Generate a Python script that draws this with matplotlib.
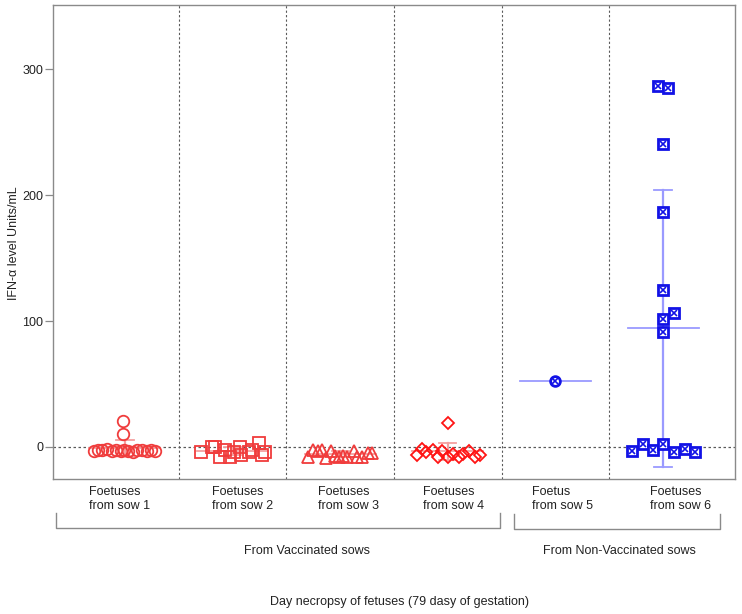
import numpy as np
import matplotlib
matplotlib.use("Agg")
import matplotlib.pyplot as plt

plt.rcParams['font.family'] = ['Liberation Sans', 'DejaVu Sans']

# ---------------- data ----------------
group_labels = ["Foetuses\nfrom sow 1", "Foetuses\nfrom sow 2", "Foetuses\nfrom sow 3",
                "Foetuses\nfrom sow 4", "Foetus\nfrom sow 5", "Foetuses\nfrom sow 6"]

sow1_offsets = [-0.29, -0.25, -0.21, -0.17, -0.12, -0.08, -0.04, -0.01, 0.03, 0.07,
                0.11, 0.16, 0.20, 0.24, 0.28, -0.02, -0.02]
sow1_values = [-3.0, -2.0, -2.5, -1.5, -3.0, -2.0, -3.5, -2.5, -3.0, -4.0,
               -2.5, -2.0, -3.0, -2.5, -3.0, 10.5, 21.0]

sow2_offsets = [-0.29, -0.19, -0.16, -0.12, -0.07, -0.02, 0.01, 0.07, 0.08, 0.15,
                0.18, 0.25, 0.27, 0.30]
sow2_values = [-3.7, -0.3, -0.3, -7.7, -2.4, -7.7, -3.7, 0.3, -6.3, -3.7,
               -2.4, 3.4, -6.3, -3.7]

sow3_offsets = [-0.30, -0.25, -0.21, -0.17, -0.13, -0.09, -0.05, -0.01, 0.03, 0.06,
                0.13, 0.16, 0.20, 0.26, 0.30]
sow3_values = [-7.7, -2.4, -3.5, -2.4, -9.0, -2.8, -7.0, -7.7, -7.0, -7.7,
               -3.5, -8.2, -7.7, -4.6, -5.0]

sow4_offsets = [-0.29, -0.24, -0.20, -0.14, -0.09, -0.05, 0.0, 0.0, 0.05, 0.10,
                0.14, 0.20, 0.25, 0.30]
sow4_values = [-6.3, -1.6, -3.7, -2.4, -7.7, -2.8, 19.3, -7.7, -5.4, -8.2,
               -5.4, -2.8, -7.7, -6.3]

sow5_offsets = [0.0]
sow5_values = [52.4]

sow6_offsets = [-0.05, 0.05, 0.0, 0.0, 0.0, 0.0, 0.10, 0.0,
                -0.29, -0.19, -0.09, 0.0, 0.10, 0.20, 0.30]
sow6_values = [286.5, 285.0, 240.5, 186.5, 124.6, 101.6, 106.0, 91.3,
               -2.9, 2.4, -2.4, 2.1, -3.7, -1.9, -3.7]

yticks = [0, 100, 200, 300]

# ---------------- figure ----------------
W, H = 742, 614
fig = plt.figure(figsize=(W / 100, H / 100), dpi=100)
ax = fig.add_axes([53 / W, 1 - 479 / H, 682 / W, 474 / H])
ax.set_xlim(0.331, 6.669)
ax.set_ylim(-25.4, 350.8)

spine_c = '#8a8a8a'
for s in ax.spines.values():
    s.set_color(spine_c)
    s.set_linewidth(1.0)

ax.set_xticks([])
ax.set_yticks(yticks)
ax.tick_params(axis='y', direction='out', length=5.5, width=0.9, color=spine_c,
               labelsize=9, pad=1.5, labelcolor='#222222')

txt_c = '#222222'
fig.text(14.5 / W, 1 - 243 / H, "IFN-α level Units/mL", rotation=90,
         ha='center', va='center', fontsize=9, color=txt_c)

dot_c = '#5a5a5a'
ax.axhline(0, color=dot_c, lw=0.9, ls=(0, (2, 2)), zorder=1)
for xd in np.arange(1.5, 6.0, 1.0):
    ax.axvline(xd, color=dot_c, lw=0.8, ls=(0, (2, 2)), zorder=1)

red = '#f03c3c'
red2 = '#ff1414'
red_err = '#f4a0a0'
blue = '#1212e6'
blue_err = '#9a9aff'

groups = [
    (sow1_offsets, sow1_values, 'o', red, 8.3, red_err),
    (sow2_offsets, sow2_values, 's', red, 8.0, red_err),
    (sow3_offsets, sow3_values, '^', red, 8.6, red_err),
    (sow4_offsets, sow4_values, 'D', red2, 6.6, red_err),
    (sow5_offsets, sow5_values, 'o', blue, 7.0, blue_err),
    (sow6_offsets, sow6_values, 's', blue, 7.2, blue_err),
]

for i, (offs, vals, mk, col, ms, ecol) in enumerate(groups):
    xc = i + 1
    vals = np.asarray(vals, float)
    xs = xc + np.asarray(offs, float)
    m = vals.mean()
    ax.plot([xc - 0.33, xc + 0.33], [m, m], color=ecol, lw=1.3, zorder=2)
    if len(vals) > 1:
        sd = vals.std(ddof=1)
        ax.plot([xc, xc], [m - sd, m + sd], color=ecol, lw=1.6, zorder=2)
        for yy in (m - sd, m + sd):
            ax.plot([xc - 0.08, xc + 0.08], [yy, yy], color=ecol, lw=1.3, zorder=2)
    if col == blue:
        ax.plot(xs, vals, ls='none', marker=mk, ms=ms, mfc='white', mec=col,
                mew=2.0, zorder=4)
        ax.plot(xs, vals, ls='none', marker='x', ms=ms * 0.62, mec=col,
                mew=1.2, zorder=5)
    else:
        ax.plot(xs, vals, ls='none', marker=mk, ms=ms, mfc='none', mec=col,
                mew=1.3, zorder=4)

# ---------------- category labels ----------------
label_px = [89, 211.7, 317.7, 423.3, 531.7, 650]
for lbl, px in zip(group_labels, label_px):
    fig.text(px / W, 1 - 499 / H, lbl, ha='left', va='center', fontsize=9,
             color=txt_c, linespacing=1.15)

# brackets
def bracket(x0, x1, y0, y1):
    fig.add_artist(plt.Line2D([x0 / W, x0 / W, x1 / W, x1 / W],
                              [1 - y0 / H, 1 - y1 / H, 1 - y1 / H, 1 - y0 / H],
                              color=spine_c, lw=1.0))

bracket(55.7, 500.3, 513, 528)
bracket(514.3, 720, 514, 529)

fig.text(307 / W, 1 - 551 / H, "From Vaccinated sows", ha='center', va='center',
         fontsize=9, color=txt_c)
fig.text(619 / W, 1 - 551 / H, "From Non-Vaccinated sows", ha='center', va='center',
         fontsize=9, color=txt_c)
fig.text(399 / W, 1 - 602 / H, "Day necropsy of fetuses (79 dasy of gestation)",
         ha='center', va='center', fontsize=9, color=txt_c)

fig.savefig("out.png", dpi=100)
